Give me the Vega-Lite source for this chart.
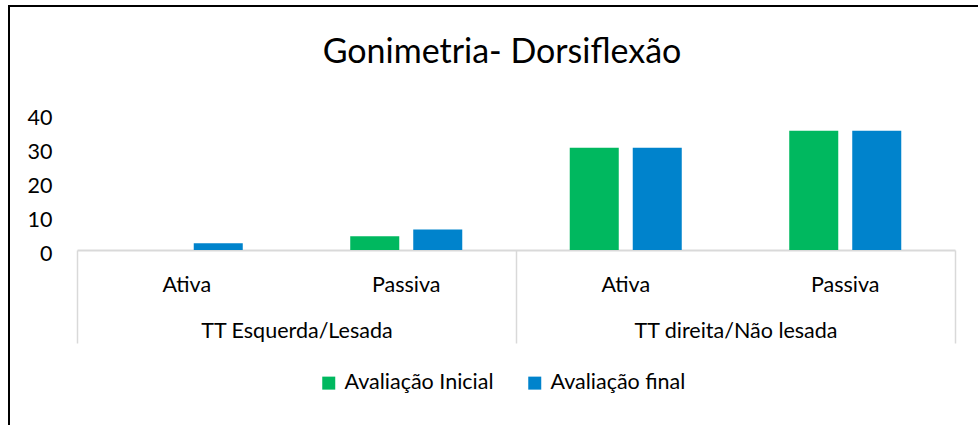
{
  "$schema": "https://vega.github.io/schema/vega-lite/v6.json",
  "autosize": {"type": "none"},
  "padding": {"left": 9, "top": 6, "right": 0, "bottom": 0},
  "width": 1014,
  "height": 430,
  "background": "white",
  "config": {
    "view": {"stroke": "#000000", "strokeWidth": 2},
    "font": "Lato"
  },
  "title": {
    "text": "Gonimetria- Dorsiflexão",
    "font": "Lato",
    "fontSize": 34,
    "fontWeight": "normal",
    "color": "#000000",
    "anchor": "middle",
    "baseline": "alphabetic",
    "offset": -91,
    "dx": -14
  },
  "data": {
    "values": [
      {"grupo": "TT Esquerda/Lesada", "tipo": "Ativa", "categoria": "TT Esquerda/Lesada|Ativa", "serie": "Avaliação Inicial", "valor": 0},
      {"grupo": "TT Esquerda/Lesada", "tipo": "Ativa", "categoria": "TT Esquerda/Lesada|Ativa", "serie": "Avaliação final", "valor": 2},
      {"grupo": "TT Esquerda/Lesada", "tipo": "Passiva", "categoria": "TT Esquerda/Lesada|Passiva", "serie": "Avaliação Inicial", "valor": 4},
      {"grupo": "TT Esquerda/Lesada", "tipo": "Passiva", "categoria": "TT Esquerda/Lesada|Passiva", "serie": "Avaliação final", "valor": 6},
      {"grupo": "TT direita/Não lesada", "tipo": "Ativa", "categoria": "TT direita/Não lesada|Ativa", "serie": "Avaliação Inicial", "valor": 30},
      {"grupo": "TT direita/Não lesada", "tipo": "Ativa", "categoria": "TT direita/Não lesada|Ativa", "serie": "Avaliação final", "valor": 30},
      {"grupo": "TT direita/Não lesada", "tipo": "Passiva", "categoria": "TT direita/Não lesada|Passiva", "serie": "Avaliação Inicial", "valor": 35},
      {"grupo": "TT direita/Não lesada", "tipo": "Passiva", "categoria": "TT direita/Não lesada|Passiva", "serie": "Avaliação final", "valor": 35}
    ]
  },
  "layer": [
    {
      "mark": {"type": "bar"},
      "encoding": {
        "x": {
          "field": "categoria",
          "type": "nominal",
          "scale": {
            "domain": ["TT Esquerda/Lesada|Ativa", "TT Esquerda/Lesada|Passiva", "TT direita/Não lesada|Ativa", "TT direita/Não lesada|Passiva"],
            "range": [68, 946],
            "paddingInner": 0,
            "paddingOuter": 0
          },
          "axis": {
            "orient": "bottom",
            "offset": -186,
            "title": null,
            "domain": true,
            "domainColor": "#d9d9d9",
            "domainWidth": 2,
            "ticks": false,
            "labelAngle": 0,
            "labelExpr": "split(datum.label, '|')[1]",
            "labelFont": "Lato",
            "labelFontSize": 21.5,
            "labelColor": "#000000",
            "labelBaseline": "alphabetic",
            "labelPadding": 41,
            "labelLimit": 400
          }
        },
        "xOffset": {
          "field": "serie",
          "type": "nominal",
          "scale": {
            "domain": ["Avaliação Inicial", "Avaliação final"],
            "paddingInner": 0.222,
            "paddingOuter": 0.853
          }
        },
        "y": {
          "field": "valor",
          "type": "quantitative",
          "scale": {"domain": [-54.55, 71.55], "nice": false, "zero": false},
          "axis": {
            "orient": "left",
            "offset": -51,
            "title": null,
            "values": [0, 10, 20, 30, 40],
            "domain": false,
            "ticks": false,
            "grid": false,
            "labelFont": "Lato",
            "labelFontSize": 21.5,
            "labelColor": "#000000",
            "labelBaseline": "alphabetic",
            "labelOffset": 10.7,
            "labelPadding": 8
          }
        },
        "color": {
          "field": "serie",
          "type": "nominal",
          "scale": {
            "domain": ["Avaliação Inicial", "Avaliação final"],
            "range": ["#00B85F", "#0083CC"]
          },
          "legend": {
            "orient": "none",
            "legendX": 309,
            "legendY": 366,
            "direction": "horizontal",
            "title": null,
            "symbolType": "square",
            "symbolSize": 169,
            "symbolStrokeWidth": 0,
            "labelFont": "Lato",
            "labelFontSize": 21.5,
            "labelColor": "#000000",
            "labelOffset": 5,
            "labelLimit": 400,
            "columnPadding": 30,
            "padding": 0
          }
        }
      }
    },
    {
      "mark": {"type": "point", "opacity": 0},
      "encoding": {
        "x": {
          "field": "grupo",
          "type": "nominal",
          "scale": {
            "domain": ["TT Esquerda/Lesada", "TT direita/Não lesada"],
            "range": [68, 946],
            "paddingInner": 0,
            "paddingOuter": 0
          },
          "axis": {
            "orient": "bottom",
            "offset": -186,
            "title": null,
            "domain": false,
            "ticks": true,
            "tickBand": "extent",
            "tickSize": 93,
            "tickColor": "#d9d9d9",
            "tickWidth": 1.5,
            "labelAngle": 0,
            "labelFont": "Lato",
            "labelFontSize": 21.5,
            "labelColor": "#000000",
            "labelBaseline": "alphabetic",
            "labelPadding": -6,
            "labelLimit": 400
          }
        },
        "y": {"datum": 0, "type": "quantitative"}
      }
    }
  ],
  "resolve": {"scale": {"x": "independent"}}
}
